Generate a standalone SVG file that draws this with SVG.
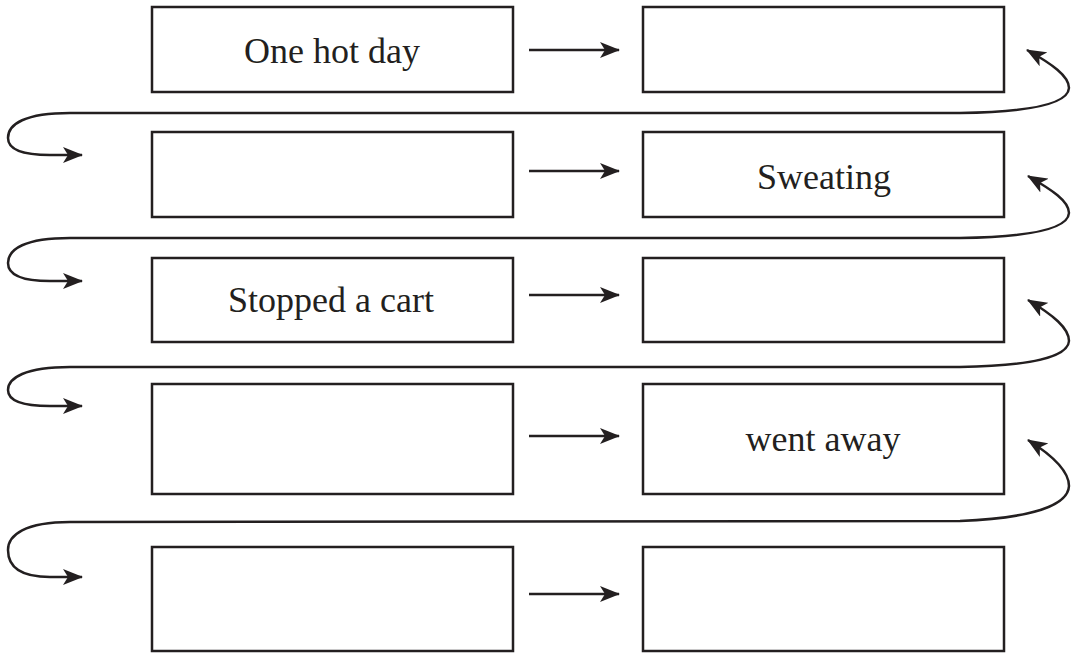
<svg xmlns="http://www.w3.org/2000/svg" width="1071" height="656" viewBox="0 0 1071 656">
<defs>
<style>
.box{fill:#fff;stroke:#231f20;stroke-width:2.5}
.lbl{font-family:"Liberation Serif","Times New Roman",serif;font-size:36px;fill:#231f20;text-anchor:middle}
.con{fill:none;stroke:#231f20;stroke-width:2.5}
</style>
<marker id="ah" viewBox="0 0 20 16" refX="19" refY="8" markerWidth="20" markerHeight="16" markerUnits="userSpaceOnUse" orient="auto-start-reverse">
<path d="M0,0 L20,8 L0,16 L5,8 z" fill="#231f20"/>
</marker>
</defs>
<rect width="1071" height="656" fill="#fff"/>
<g id="n1"><rect class="box" x="152" y="7" width="361" height="85"/><text class="lbl" x="332" y="63">One hot day</text></g>
<g id="n2"><rect class="box" x="643" y="7" width="361" height="85"/></g>
<g id="n3"><rect class="box" x="152" y="132" width="361" height="85"/></g>
<g id="n4"><rect class="box" x="643" y="132" width="361" height="85"/><text class="lbl" x="824" y="189">Sweating</text></g>
<g id="n5"><rect class="box" x="152" y="258" width="361" height="84"/><text class="lbl" x="331" y="312">Stopped a cart</text></g>
<g id="n6"><rect class="box" x="643" y="258" width="361" height="84"/></g>
<g id="n7"><rect class="box" x="152" y="384" width="361" height="110"/></g>
<g id="n8"><rect class="box" x="643" y="384" width="361" height="110"/><text class="lbl" x="823" y="451">went away</text></g>
<g id="n9"><rect class="box" x="152" y="547" width="361" height="104"/></g>
<g id="n10"><rect class="box" x="643" y="547" width="361" height="104"/></g>
<g id="connectors">
<path class="con" d="M529,50 L619,50" marker-end="url(#ah)"/>
<path class="con" d="M529,171 L619,171" marker-end="url(#ah)"/>
<path class="con" d="M529,295 L619,295" marker-end="url(#ah)"/>
<path class="con" d="M529,436 L619,436" marker-end="url(#ah)"/>
<path class="con" d="M529,594 L619,594" marker-end="url(#ah)"/>
<path class="con" d="M1027,50 C1052,64 1069,76 1069,88 C1068,104 1030,112 960,113 L70,113 C25,113 8,124 8,138 C8,150 25,155 50,155 L82,155" marker-start="url(#ah)" marker-end="url(#ah)"/>
<path class="con" d="M1028,176 C1052,190 1069,201 1069,213 C1068,229 1030,237 960,238 L70,238 C25,238 8,249 8,263 C8,276 25,281 50,281 L82,281" marker-start="url(#ah)" marker-end="url(#ah)"/>
<path class="con" d="M1028,300 C1053,315 1069,328 1069,341 C1068,357 1030,366 960,367 L70,367 C25,367 8,378 8,390 C8,402 25,406 50,406 L82,406" marker-start="url(#ah)" marker-end="url(#ah)"/>
<path class="con" d="M1028,440 C1055,457 1069,472 1069,486 C1068,506 1030,518 960,521 L70,522 C25,522 8,535 8,550 C8,570 25,577 50,577 L82,577" marker-start="url(#ah)" marker-end="url(#ah)"/>
</g>
</svg>
